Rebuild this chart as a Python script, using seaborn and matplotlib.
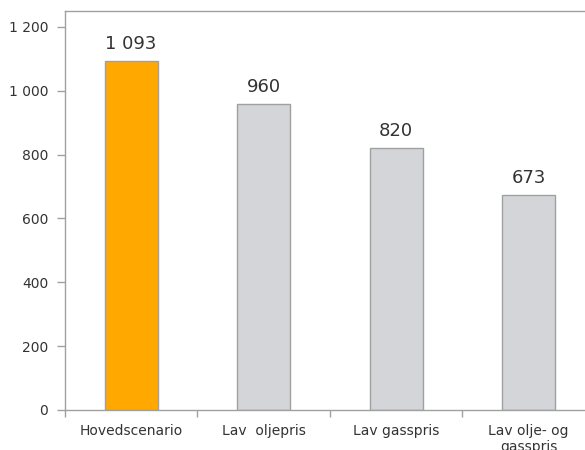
import matplotlib
matplotlib.use("Agg")
import matplotlib.pyplot as plt
import seaborn as sns
import pandas as pd
import numpy as np

categories = ["Hovedscenario", "Lav  oljepris", "Lav gasspris", "Lav olje- og\ngasspris"]
values = [1093, 960, 820, 673]
value_labels = ["1 093", "960", "820", "673"]
bar_colors = ["#FFA800", "#D4D5D9", "#D4D5D9", "#D4D5D9"]
y_ticks = [0, 200, 400, 600, 800, 1000, 1200]
y_tick_labels = ["0", "200", "400", "600", "800", "1 000", "1 200"]

sns.set_style("white")
plt.rcParams['font.family'] = ['DejaVu Sans']

df = pd.DataFrame({"cat": categories, "val": values})

fig = plt.figure(figsize=(5.85, 4.5), dpi=100)
ax = fig.add_axes([0.111, 0.0889, 0.906, 0.8867])

sns.barplot(data=df, x="cat", y="val", hue="cat", palette=bar_colors,
            legend=False, width=0.4, edgecolor="#A0A0A0", linewidth=1,
            saturation=1, ax=ax)

ax.set_xlim(-0.5, 3.5)
ax.set_ylim(0, 1250)
ax.set_xlabel("")
ax.set_ylabel("")

for i, (v, lab) in enumerate(zip(values, value_labels)):
    ax.text(i, v + 25, lab, ha="center", va="bottom", fontsize=13, color="#333333")

spine_col = "#A0A0A0"
for s in ["left", "bottom", "top"]:
    ax.spines[s].set_color(spine_col)
    ax.spines[s].set_linewidth(1)
ax.spines["right"].set_visible(False)

ax.set_yticks(y_ticks)
ax.set_yticklabels(y_tick_labels)
ax.tick_params(axis="y", left=True, length=6, width=1, color=spine_col,
               labelsize=10, labelcolor="#333333", pad=6)

ax.set_xticks(np.arange(-0.5, 4.0, 1.0))
ax.set_xticklabels([])
ax.tick_params(axis="x", which="major", bottom=True, length=5, width=1, color=spine_col)
ax.set_xticks(range(len(categories)), minor=True)
ax.set_xticklabels(categories, minor=True)
ax.tick_params(axis="x", which="minor", bottom=True, length=0, labelsize=10,
               labelcolor="#333333", pad=10)

fig.savefig("out.png", dpi=100)
